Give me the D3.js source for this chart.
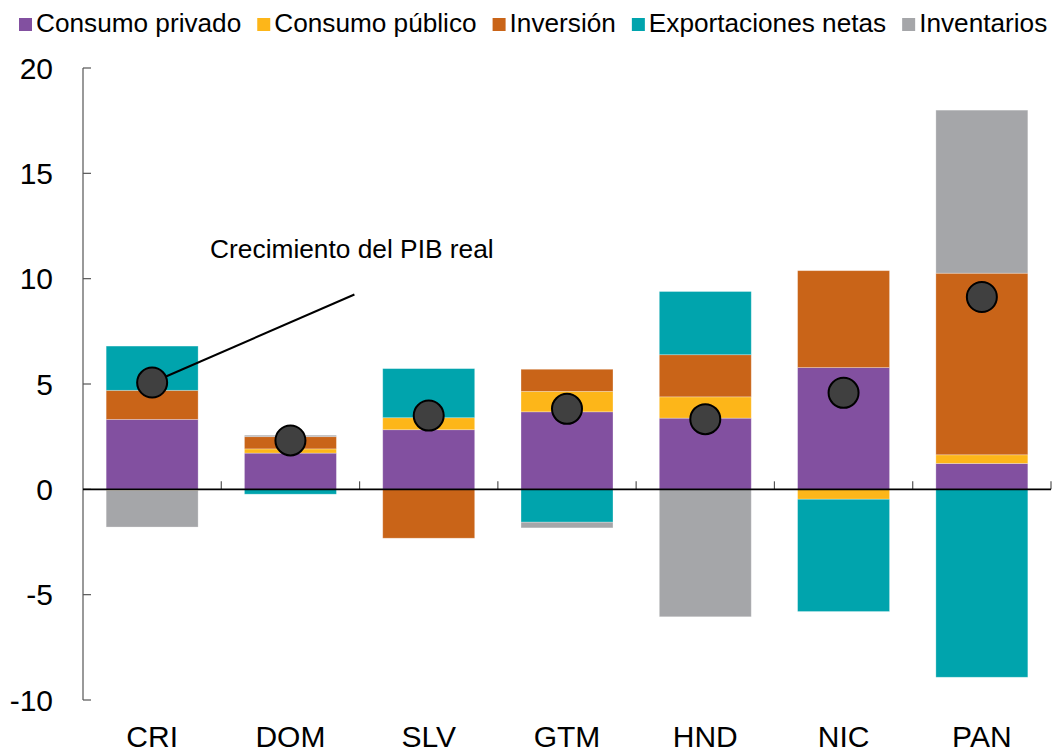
<!DOCTYPE html>
<html>
<head>
<meta charset="utf-8">
<script src="https://cdn.jsdelivr.net/npm/d3@7"></script>
<style>
  body { margin: 0; background: #fff; }
  svg { display: block; font-family: "Liberation Sans", Arial, sans-serif; }
</style>
</head>
<body>
<div id="chart"></div>
<script>
// categories and series (percentage point contributions)
const categories = ["CRI", "DOM", "SLV", "GTM", "HND", "NIC", "PAN"];
const consumoPrivado = [3.32, 1.72, 2.83, 3.68, 3.38, 5.78, 1.23];
const consumoPublico = [-0.05, 0.20, 0.57, 0.97, 1.01, -0.47, 0.41];
const inversion = [1.38, 0.58, -2.32, 1.05, 2.00, 4.60, 8.62];
const exportacionesNetas = [2.10, -0.23, 2.33, -1.56, 3.00, -5.33, -8.92];
const inventarios = [-1.74, 0.07, 0.00, -0.27, -6.05, 0.00, 7.74];
const pibReal = [5.07, 2.32, 3.50, 3.82, 3.33, 4.58, 9.13];
const yTicks = [-10, -5, 0, 5, 10, 15, 20];

const seriesNames = ["Consumo privado", "Consumo público", "Inversión", "Exportaciones netas", "Inventarios"];
const seriesValues = [consumoPrivado, consumoPublico, inversion, exportacionesNetas, inventarios];
const colors = ["#8250A0", "#FDB619", "#C96418", "#00A4AD", "#A5A6A9"];

const width = 1063, height = 751;
const margin = {left: 83, right: 12, top: 68, bottom: 51};

const svg = d3.select("#chart").append("svg")
    .attr("width", width)
    .attr("height", height);

// build rows for d3.stack
const rows = categories.map(function(c, i) {
    const r = {cat: c};
    seriesNames.forEach(function(s, j) { r[s] = seriesValues[j][i]; });
    return r;
});

const x = d3.scaleBand()
    .domain(categories)
    .range([margin.left, width - margin.right])
    .paddingInner(0.335)
    .paddingOuter(0.1675);

const y = d3.scaleLinear()
    .domain([-10, 20])
    .range([height - margin.bottom, margin.top]);

const stack = d3.stack()
    .keys(seriesNames)
    .offset(d3.stackOffsetDiverging);

const stacked = stack(rows);

// bars
svg.append("g").selectAll("g")
    .data(stacked)
    .join("g")
    .attr("fill", function(d, i) { return colors[i]; })
    .selectAll("rect")
    .data(function(d) { return d; })
    .join("rect")
    .attr("x", function(d) { return x(d.data.cat); })
    .attr("width", x.bandwidth())
    .attr("y", function(d) { return y(Math.max(d[0], d[1])); })
    .attr("height", function(d) { return Math.abs(y(d[0]) - y(d[1])); })
    .attr("stroke", "rgba(255,255,255,0.35)")
    .attr("stroke-width", 0.8);

// y axis
const yAxis = svg.append("g");
yAxis.append("line")
    .attr("x1", margin.left).attr("x2", margin.left)
    .attr("y1", y(20)).attr("y2", y(-10))
    .attr("stroke", "#555").attr("stroke-width", 1.2);
yAxis.selectAll(".ytick")
    .data(yTicks)
    .join("line")
    .attr("class", "ytick")
    .attr("x1", margin.left).attr("x2", margin.left + 8)
    .attr("y1", function(d) { return y(d); })
    .attr("y2", function(d) { return y(d); })
    .attr("stroke", "#555").attr("stroke-width", 1.2);
yAxis.selectAll(".ylab")
    .data(yTicks)
    .join("text")
    .attr("class", "ylab")
    .attr("x", margin.left - 30)
    .attr("y", function(d) { return y(d); })
    .attr("dy", "0.35em")
    .attr("text-anchor", "end")
    .style("font-size", "30px")
    .attr("fill", "#000")
    .text(function(d) { return d; });

// x axis at zero
const step = x.step();
const xAxis = svg.append("g");
xAxis.selectAll(".xtick")
    .data(d3.range(1, categories.length + 1))
    .join("line")
    .attr("class", "xtick")
    .attr("x1", function(i) { return margin.left + i * step; })
    .attr("x2", function(i) { return margin.left + i * step; })
    .attr("y1", y(0)).attr("y2", y(0) - 8)
    .attr("stroke", "#555").attr("stroke-width", 1.2);
xAxis.append("line")
    .attr("x1", margin.left).attr("x2", width - margin.right)
    .attr("y1", y(0)).attr("y2", y(0))
    .attr("stroke", "#000").attr("stroke-width", 1.6);
xAxis.selectAll(".xlab")
    .data(categories)
    .join("text")
    .attr("class", "xlab")
    .attr("x", function(d) { return x(d) + x.bandwidth() / 2; })
    .attr("y", height - 4)
    .attr("text-anchor", "middle")
    .style("font-size", "30px")
    .attr("fill", "#000")
    .text(function(d) { return d; });

// annotation
const annoX = x("CRI") + x.bandwidth() + 12;
svg.append("line")
    .attr("x1", x("CRI") + x.bandwidth() / 2)
    .attr("y1", y(pibReal[0]))
    .attr("x2", x("DOM") + x.bandwidth() + 18)
    .attr("y2", y(9.25))
    .attr("stroke", "#000").attr("stroke-width", 2);
svg.append("text")
    .attr("x", annoX)
    .attr("y", y(11))
    .style("font-size", "26.3px")
    .attr("fill", "#000")
    .text("Crecimiento del PIB real");

// GDP growth dots
svg.append("g").selectAll("circle")
    .data(pibReal)
    .join("circle")
    .attr("cx", function(d, i) { return x(categories[i]) + x.bandwidth() / 2; })
    .attr("cy", function(d) { return y(d); })
    .attr("r", 15)
    .attr("fill", "#404040")
    .attr("stroke", "#000")
    .attr("stroke-width", 2);

// legend
const legend = svg.append("g");
let lx = 19;
seriesNames.forEach(function(s, i) {
    legend.append("rect")
        .attr("x", lx).attr("y", 18)
        .attr("width", 13).attr("height", 13)
        .attr("fill", colors[i]);
    const t = legend.append("text")
        .attr("x", lx + 17)
        .attr("y", 32)
        .style("font-size", "26.2px")
        .attr("fill", "#000")
        .text(s);
    lx += 17 + t.node().getComputedTextLength() + 16;
});
</script>
</body>
</html>
